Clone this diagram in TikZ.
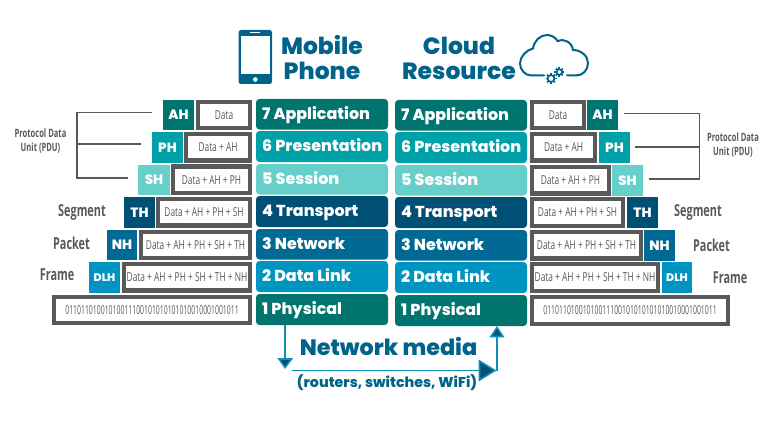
\documentclass[tikz,border=0pt]{standalone}
\usepackage{fontspec}
\setmainfont{Poppins}[BoldFont={Poppins ExtraBold}]
\newfontfamily\narrowf[FakeStretch=0.68]{Open Sans}
\newfontfamily\narrowbin[FakeStretch=0.56]{Open Sans}
\newfontfamily\narrowb[FakeStretch=0.66]{Open Sans}
\definecolor{gr}{HTML}{58595B}
\definecolor{cA}{HTML}{00746F}
\definecolor{cB}{HTML}{00A0A8}
\definecolor{cC}{HTML}{66CFC9}
\definecolor{cD}{HTML}{004F74}
\definecolor{cE}{HTML}{006A94}
\definecolor{cF}{HTML}{0095C0}
\definecolor{head}{HTML}{00648A}
\definecolor{arr}{HTML}{0E8FB8}
\tikzset{
 layerbox/.style={inner sep=0,text=white,font=\bfseries\fontsize{15.9}{15.9}\selectfont,align=left},
 hdrbox/.style={inner sep=0,text=white,font=\bfseries\fontsize{13.5}{13.5}\selectfont},
 databox/.style={draw=gr,fill=white,line width=4.2pt,inner sep=0,text=gr,font=\narrowf\fontsize{12.3}{12.3}\selectfont},
 pdu/.style={text=gr,font=\narrowb\bfseries\fontsize{11.5}{14}\selectfont,align=center,inner sep=0},
 unitlabel/.style={text=gr,font=\narrowb\bfseries\fontsize{16.5}{16.5}\selectfont,inner sep=0},
 brk/.style={draw=gr,line width=1.6pt},
 title/.style={text=head,font=\bfseries\fontsize{23.5}{25}\selectfont,align=center,inner sep=0},
 link/.style={draw=arr,line width=1.8pt},
 tipp/.style={draw=arr,fill=cD,line width=1.6pt,line join=miter},
}
% name x1 y1 x2 y2 colour label
\newcommand{\layerb}[7]{\fill[#6,rounded corners=3.5pt] (#2,#3) rectangle (#4,#5);
 \node[layerbox,anchor=base west] (#1) at ({#2+6},{(#3+#5)/2+5}) {#7};}
\newcommand{\hdrb}[7]{\node[hdrbox,fill=#6,minimum width={(#4-#2)*1pt},minimum height={(#5-#3)*1pt}] (#1) at ({(#2+#4)/2},{(#3+#5)/2}) {#7};}
\newcommand{\datab}[6]{\node[databox,minimum width={(#4-#2-4)*1pt},minimum height={(#5-#3-4)*1pt}] (#1) at ({(#2+#4)/2},{(#3+#5)/2}) {#6};}
\begin{document}
\begin{tikzpicture}[x=1pt,y=-1pt]
\useasboundingbox (0,0) rectangle (775,425);
% phone
\fill[head,rounded corners=2.5pt] (238.5,30) rectangle (272,84);
\fill[white] (241,36) rectangle (269.5,74.5);
\fill[white] (255.3,79.5) circle (2.3);
\draw[white,line width=.8pt] (250,32.7) -- (260,32.7);
\node[title] (mobile) at (322,58) {Mobile\\Phone};
\node[title] (cloud) at (459,58) {Cloud\\Resource};
% cloud
\draw[head,line width=2pt,line cap=round] (544,75.5) -- (531,75.5)
  .. controls (525,75.5) and (520,69.5) .. (520,63.5)
  .. controls (520,57) and (526,50) .. (533,48.5)
  .. controls (534,41) and (540,35) .. (547,35)
  .. controls (551,35) and (555,37) .. (557.5,41)
  .. controls (563,38) and (572,42) .. (573,50)
  .. controls (581,50) and (588,56) .. (588,63)
  .. controls (588,70) and (583,75.5) .. (576,75.5) -- (567,75.5);
% gears
\foreach \cx/\cy/\rr in {551/78.5/3.4,559.3/72/2.8}{
  \foreach \a in {0,45,...,315}{\draw[head,line width=1.7pt] (\cx,\cy) ++(\a:\rr) -- ++(\a:2.1);}
  \draw[head,line width=1.7pt,fill=white] (\cx,\cy) circle (\rr);
}
% left layers
\layerb{la7}{256}{99}{388}{129.5}{cA}{7 Application}
\layerb{la6}{256}{131}{388}{162}{cB}{6 Presentation}
\layerb{la5}{256}{164}{388}{194.5}{cC}{5 Session}
\layerb{la4}{256}{196}{388}{227}{cD}{4 Transport}
\layerb{la3}{256}{229}{388}{259.5}{cE}{3 Network}
\layerb{la2}{256}{261}{388}{292}{cF}{2 Data Link}
\layerb{la1}{256}{294}{388}{325}{cA}{1 Physical}
% right layers
\layerb{ra7}{395}{100}{527}{130.5}{cA}{7 Application}
\layerb{ra6}{395}{132}{527}{163}{cB}{6 Presentation}
\layerb{ra5}{395}{165}{527}{195.5}{cC}{5 Session}
\layerb{ra4}{395}{197}{527}{228}{cD}{4 Transport}
\layerb{ra3}{395}{230}{527}{260.5}{cE}{3 Network}
\layerb{ra2}{395}{262}{527}{293}{cF}{2 Data Link}
\layerb{ra1}{395}{295}{527}{326}{cA}{1 Physical}
% left stack
\hdrb{lh7}{163}{100}{194}{130}{cA}{AH}
\datab{ld7}{196}{100}{252}{130}{Data}
\hdrb{lh6}{152}{132}{183}{162.5}{cB}{PH}
\datab{ld6}{184}{132}{252}{162.5}{Data + AH}
\hdrb{lh5}{138}{164.5}{170}{195}{cC}{SH}
\datab{ld5}{171}{164.5}{252}{195}{Data + AH + PH}
\hdrb{lh4}{124}{197}{155}{227.5}{cD}{TH}
\datab{ld4}{156}{197}{252}{227.5}{Data + AH + PH + SH}
\hdrb{lh3}{107}{230}{137}{260}{cE}{NH}
\datab{ld3}{139}{230}{252}{260}{Data + AH + PH + SH + TH}
\hdrb{lh2}{89}{262}{120}{292.5}{cF}{\fontsize{11}{11}\selectfont DLH}
\datab{ld2}{122}{262}{252}{292.5}{Data + AH + PH + SH + TH + NH}
\datab{ld1}{52}{295}{252}{325}{\narrowbin 01101101001010011100101010101010010001001011}
% right stack
\datab{rd7}{530}{100}{586}{130}{Data}
\hdrb{rh7}{587}{100}{618}{130}{cA}{AH}
\datab{rd6}{530}{132}{597}{162.5}{Data + AH}
\hdrb{rh6}{599}{132}{630}{162.5}{cB}{PH}
\datab{rd5}{530}{165}{611}{195.5}{Data + AH + PH}
\hdrb{rh5}{612}{165}{643}{195.5}{cC}{SH}
\datab{rd4}{530}{197}{625}{228}{Data + AH + PH + SH}
\hdrb{rh4}{627}{197}{658}{228}{cD}{TH}
\datab{rd3}{530}{230}{643}{260.5}{Data + AH + PH + SH + TH}
\hdrb{rh3}{644}{230}{675}{260.5}{cE}{NH}
\datab{rd2}{530}{262}{660}{293}{Data + AH + PH + SH + TH + NH}
\hdrb{rh2}{662}{262}{692}{293}{cF}{\fontsize{11}{11}\selectfont DLH}
\datab{rd1}{530}{295}{730}{326}{\narrowbin 01101101001010011100101010101010010001001011}
% side labels
\node[unitlabel] (lseg) at (82,213) {Segment};
\node[unitlabel] (lpac) at (71.5,243) {Packet};
\node[unitlabel] (lfra) at (57,275) {Frame};
\node[unitlabel] (rseg) at (698,213) {Segment};
\node[unitlabel] (rpac) at (711.5,245) {Packet};
\node[unitlabel] (rfra) at (730,278) {Frame};
\node[pdu] (lpdu) at (40.5,141.5) {Protocol Data\\Unit (PDU)};
\node[pdu] (rpdu) at (733,145.5) {Protocol Data\\Unit (PDU)};
% brackets
\coordinate (lb7) at (152,112.5); \coordinate (lb6) at (141,144); \coordinate (lb5) at (128,178);
\coordinate (lv7) at (77,112.5); \coordinate (lv6) at (77,144); \coordinate (lv5) at (77,178);
\draw[brk] (lb7) -- (lv7) -- (lv5) -- (lb5);
\draw[brk] (lv6) -- (lb6);
\coordinate (rb7) at (624,113.5); \coordinate (rb6) at (635,147); \coordinate (rb5) at (649,179);
\coordinate (rv7) at (699.5,113.5); \coordinate (rv6) at (699.5,147); \coordinate (rv5) at (699.5,179);
\draw[brk] (rb7) -- (rv7) -- (rv5) -- (rb5);
\draw[brk] (rv6) -- (rb6);
% network media
\node[text=head,font=\bfseries\fontsize{22.3}{22.3}\selectfont,inner sep=0] (net) at (388.5,346.5) {Network media};
\node[text=head,font=\bfseries\fontsize{14.2}{14.2}\selectfont,inner sep=0] (rout) at (387,383) {(routers, switches, WiFi)};
\coordinate (d0) at (285,325); \coordinate (d1) at (285,360);
\coordinate (h0) at (291.5,370.5); \coordinate (h1) at (480,370.5);
\coordinate (u0) at (497,370.5); \coordinate (u1) at (497,336);
\draw[link] (d0) -- (d1);
\draw[link] (h0) -- (h1);
\draw[link] (u0) -- (u1);
\draw[tipp] (279,359) -- (291.5,359) -- (285,367.5) -- cycle;
\draw[tipp] (479.5,361) -- (495,370.5) -- (479.5,380) -- cycle;
\draw[tipp] (491,336.5) -- (503,336.5) -- (497,327.5) -- cycle;
\end{tikzpicture}
\end{document}
